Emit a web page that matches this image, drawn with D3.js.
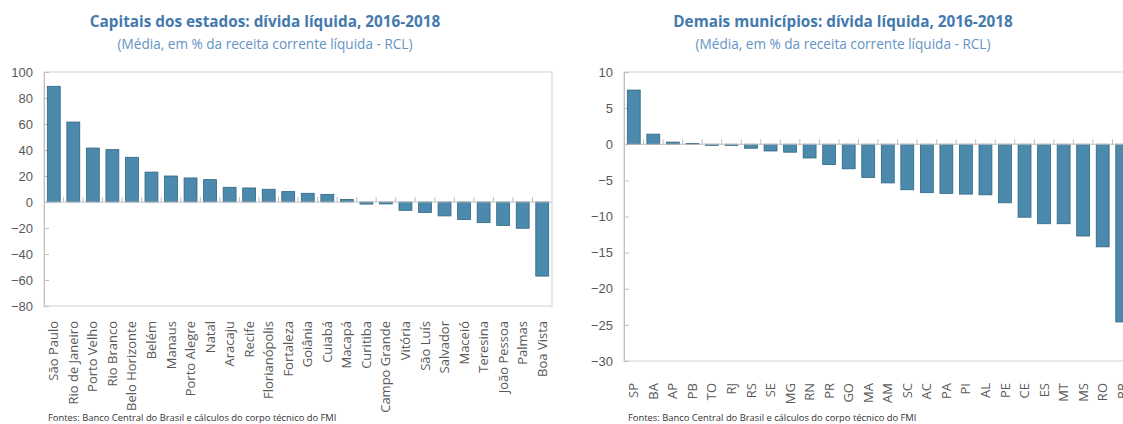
<!DOCTYPE html>
<meta charset="utf-8">
<style>
    body { margin: 0; background: #fff; }
    svg { display: block; font-family: "Open Sans", sans-serif; }
    .axis text { fill: #595959; font-size: 13px; }
    .axis path, .axis line { stroke: #bfbfbf; }
    .titulo { fill: #4479ad; font-weight: bold; font-size: 15.3px; }
    .subtitulo { fill: #6494c4; font-size: 13.6px; }
    .fonte { fill: #333; font-size: 9.4px; }
</style>
<svg width="1123" height="424"></svg>
<script src="https://d3js.org/d3.v7.min.js"></script>
<script>

    // capitais dos estados
    var capitais = ["São Paulo", "Rio de Janeiro", "Porto Velho", "Rio Branco", "Belo Horizonte",
        "Belém", "Manaus", "Porto Alegre", "Natal", "Aracaju", "Recife", "Florianópolis",
        "Fortaleza", "Goiânia", "Cuiabá", "Macapá", "Curitiba", "Campo Grande", "Vitória",
        "São Luís", "Salvador", "Maceió", "Teresina", "João Pessoa", "Palmas", "Boa Vista"];
    var capitaisValores = [89, 61.5, 41.5, 40.3, 34.4, 23, 20, 18.5, 17.2, 11.3, 10.8, 9.8,
        8, 6.7, 5.9, 2, -1.6, -1.5, -6.4, -8, -10.7, -13.5, -15.9, -18, -20.2, -57];
    var capitaisTicks = [100, 80, 60, 40, 20, 0, -20, -40, -60, -80];

    // demais municipios (por estado)
    var estados = ["SP", "BA", "AP", "PB", "TO", "RJ", "RS", "SE", "MG", "RN", "PR", "GO", "MA",
        "AM", "SC", "AC", "PA", "PI", "AL", "PE", "CE", "ES", "MT", "MS", "RO", "RR"];
    var estadosValores = [7.5, 1.4, 0.3, 0.1, -0.15, -0.15, -0.55, -0.93, -1.1, -1.9, -2.8, -3.4, -4.6,
        -5.35, -6.3, -6.7, -6.8, -6.9, -7.0, -8.1, -10.1, -11.0, -11.0, -12.7, -14.2, -24.6];
    var estadosTicks = [10, 5, 0, -5, -10, -15, -20, -25, -30];

    var svg = d3.select("svg");

    svg.append("rect").attr("width", 1123).attr("height", 424).attr("fill", "#fff");

    function painel(cfg) {
        var g = svg.append("g");

        var x = d3.scaleBand()
            .domain(cfg.categorias)
            .range([cfg.left, cfg.right])
            .paddingInner(0.34)
            .paddingOuter(0.17);

        var y = d3.scaleLinear()
            .domain(cfg.dominio)
            .range([cfg.bottom, cfg.top]);

        // caixa da area do grafico
        g.append("rect")
            .attr("x", cfg.left)
            .attr("y", cfg.top)
            .attr("width", cfg.right - cfg.left)
            .attr("height", cfg.bottom - cfg.top)
            .attr("fill", "none")
            .attr("stroke", "#d9d9d9")
            .attr("stroke-width", 1.2);

        // eixo y
        var eixoY = g.append("g")
            .attr("class", "axis")
            .attr("transform", "translate(" + cfg.left + ",0)")
            .call(d3.axisLeft(y).tickValues(cfg.ticks).tickSize(-5).tickPadding(11).tickSizeOuter(0));
        eixoY.select(".domain").attr("stroke", "#bfbfbf");

        // barras
        g.append("g")
            .selectAll("rect")
            .data(cfg.valores)
            .enter().append("rect")
            .attr("x", function(d, i) { return x(cfg.categorias[i]); })
            .attr("y", function(d) { return y(Math.max(0, d)); })
            .attr("width", x.bandwidth())
            .attr("height", function(d) { return Math.abs(y(d) - y(0)); })
            .attr("fill", "#4b8aad")
            .attr("stroke", "#2f6584")
            .attr("stroke-width", 0.8);

        // linha do zero com marcas entre categorias
        g.append("line")
            .attr("x1", cfg.left).attr("x2", cfg.right)
            .attr("y1", y(0)).attr("y2", y(0))
            .attr("stroke", "#bfbfbf");

        g.append("g")
            .selectAll("line")
            .data(cfg.categorias.slice(1))
            .enter().append("line")
            .attr("x1", function(d) { return x(d) - x.step() * x.paddingInner() / 2; })
            .attr("x2", function(d) { return x(d) - x.step() * x.paddingInner() / 2; })
            .attr("y1", y(0)).attr("y2", y(0) - 5)
            .attr("stroke", "#bfbfbf");

        // rotulos das categorias
        g.append("g")
            .attr("class", "axis")
            .selectAll("text")
            .data(cfg.categorias)
            .enter().append("text")
            .attr("transform", function(d) {
                return "translate(" + (x(d) + x.bandwidth() / 2) + "," + cfg.rotuloY + ") rotate(-90)";
            })
            .attr("text-anchor", "end")
            .attr("dy", "0.35em")
            .text(function(d) { return d; });

        g.append("text")
            .attr("class", "titulo")
            .attr("x", cfg.tituloX).attr("y", 27)
            .attr("text-anchor", "middle")
            .text(cfg.titulo);

        g.append("text")
            .attr("class", "subtitulo")
            .attr("x", cfg.tituloX).attr("y", 49)
            .attr("text-anchor", "middle")
            .text("(Média, em % da receita corrente líquida - RCL)");

        g.append("text")
            .attr("class", "fonte")
            .attr("x", cfg.fonteX).attr("y", 421)
            .text("Fontes: Banco Central do Brasil e cálculos do corpo técnico do FMI");
    }

    painel({
        categorias: capitais,
        valores: capitaisValores,
        ticks: capitaisTicks,
        dominio: [-80, 100],
        left: 44, right: 552, top: 72, bottom: 306,
        rotuloY: 321,
        tituloX: 265,
        fonteX: 48,
        titulo: "Capitais dos estados: dívida líquida, 2016-2018"
    });

    painel({
        categorias: estados,
        valores: estadosValores,
        ticks: estadosTicks,
        dominio: [-30, 10],
        left: 624, right: 1132, top: 72, bottom: 361,
        rotuloY: 383,
        tituloX: 843,
        fonteX: 628,
        titulo: "Demais municípios: dívida líquida, 2016-2018"
    });

</script>
